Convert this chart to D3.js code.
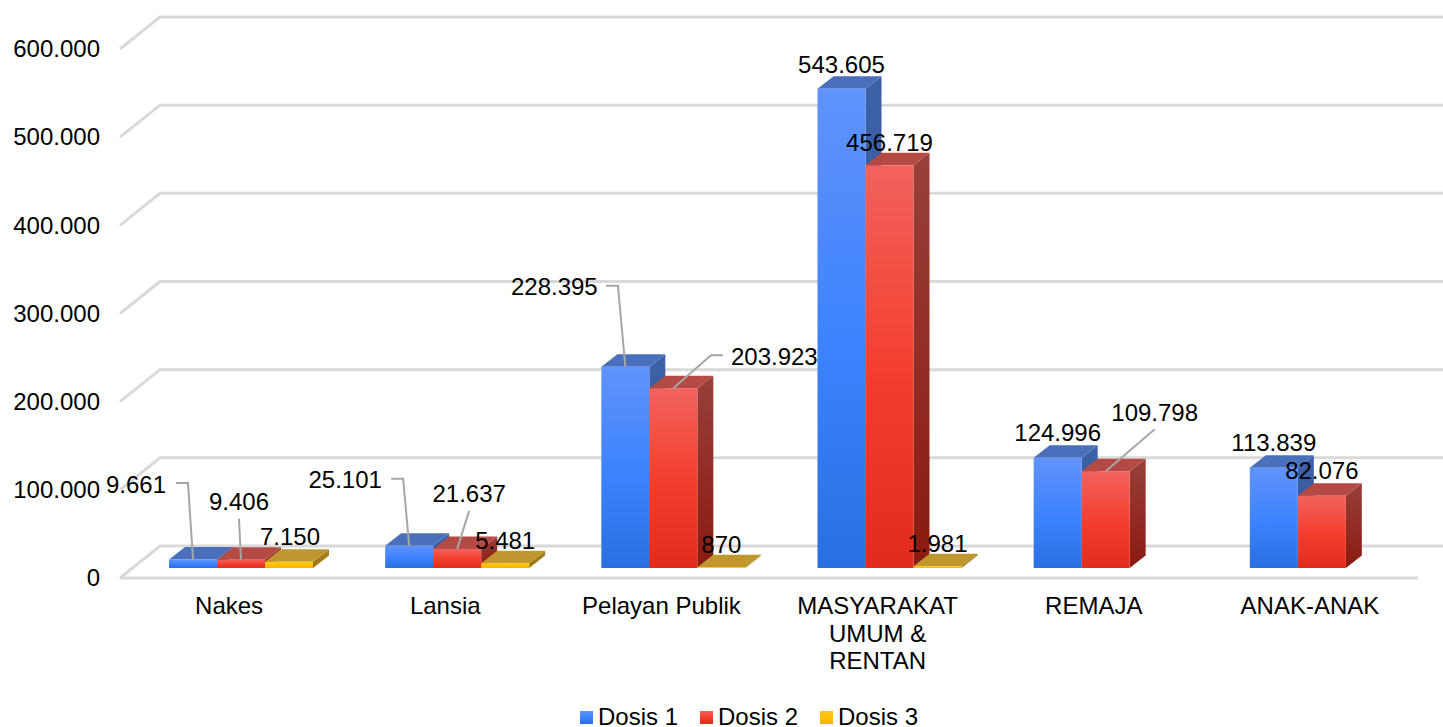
<!DOCTYPE html>
<html>
<head>
<meta charset="utf-8">
<script src="https://cdn.jsdelivr.net/npm/d3@7"></script>
<style>
  html, body { margin: 0; padding: 0; background: #fff; overflow: hidden; }
  svg { display: block; }
  text { font-family: "Liberation Sans", Arial, sans-serif; fill: #000; }
</style>
</head>
<body>
<div id="chart"></div>
<script>
const categories = ["Nakes", "Lansia", "Pelayan Publik", "MASYARAKAT UMUM & RENTAN", "REMAJA", "ANAK-ANAK"];
const seriesNames = ["Dosis 1", "Dosis 2", "Dosis 3"];
const dosis1 = [9661, 25101, 228395, 543605, 124996, 113839];
const dosis2 = [9406, 21637, 203923, 456719, 109798, 82076];
const dosis3 = [7150, 5481, 870, 1981, null, null];
const yTicks = [0, 100000, 200000, 300000, 400000, 500000, 600000];

// category labels broken by hand like the original
const categoryLines = {"MASYARAKAT UMUM & RENTAN": ["MASYARAKAT", "UMUM &", "RENTAN"]};

// data labels were dragged around by hand in the original: [dx, dy] from bar top
const labelOffsets = [
  [[-57, -75], [-64, -66], [-71, -80], [0, -24], [0, -25], [0, -25]],
  [[-2, -58], [12, -55], [101, -32], [0, -23], [49, -59], [0, -25]],
  [[1, -25], [0, -23], [0, -23], [0, -23], null, null]
];
// leader lines, relative to bar top: [series, category, points]
const leaders = [
  [0, 0, [[-17, -76.5], [-5, -76.5], [0, 0]]],
  [1, 0, [[-2, -41], [0, 0]]],
  [0, 1, [[-18, -67], [-6, -67], [0, 0]]],
  [1, 1, [[12, -38], [0, 0]]],
  [0, 2, [[-19.4, -81], [-7.4, -81], [0, 0]]],
  [1, 2, [[49.6, -33], [37.6, -33], [0, 0]]],
  [1, 4, [[49, -42], [0, 0]]]
];

const width = 1443, height = 727;
const values = [dosis1, dosis2, dosis3];

// 3d look: wall sits behind the front plane, bars sit in the middle of the floor
const wallX = 40, wallY = 32;
const barX = 12, barY = 10;
const depthX = 16, depthY = 12.5;

const colors = [
  {front: ["#6093fb", "#3b82fd", "#2a6fe0"], top: "#4a70bc", side: ["#3d62a8", "#274f94"]},
  {front: ["#f2625c", "#f33c2b", "#e22b1a"], top: "#b34a44", side: ["#98403a", "#8a1a10"]},
  {front: ["#ffc61a", "#ffc000", "#f5b400"], top: "#c0962e", side: ["#a8821e", "#9a7510"]}
];

let svg = d3.select("#chart").append("svg")
  .attr("width", width)
  .attr("height", height);

let defs = svg.append("defs");
colors.forEach((c, i) => {
  let g = defs.append("linearGradient").attr("id", "front" + i)
    .attr("x1", 0).attr("y1", 0).attr("x2", 0).attr("y2", 1);
  g.append("stop").attr("offset", "0%").attr("stop-color", c.front[0]);
  g.append("stop").attr("offset", "55%").attr("stop-color", c.front[1]);
  g.append("stop").attr("offset", "100%").attr("stop-color", c.front[2]);
  let s = defs.append("linearGradient").attr("id", "side" + i)
    .attr("x1", 0).attr("y1", 0).attr("x2", 0).attr("y2", 1);
  s.append("stop").attr("offset", "0%").attr("stop-color", c.side[0]);
  s.append("stop").attr("offset", "100%").attr("stop-color", c.side[1]);
});

let x0 = d3.scaleBand().domain(categories).range([121, 1418]);
let x1 = d3.scaleBand().domain(seriesNames).range([36, 180]);
let y = d3.scaleLinear().domain([0, 600000]).range([578, 49]);

let fmt = d3.formatLocale({decimal: ",", thousands: ".", grouping: [3], currency: ["", ""]}).format(",d");

// walls and floor
let grid = svg.append("g")
  .attr("fill", "none")
  .attr("stroke", "#d9d9d9")
  .attr("stroke-width", 3);

yTicks.forEach(t => {
  grid.append("path")
    .attr("d", d3.line()([
      [x0.range()[0] - 1, y(t)],
      [x0.range()[0] - 1 + wallX, y(t) - wallY],
      [x0.range()[1] + wallX, y(t) - wallY]
    ]));
});
grid.append("line")
  .attr("x1", x0.range()[0] - 1).attr("y1", y(0))
  .attr("x2", x0.range()[1]).attr("y2", y(0));

// bars, left to right so the next bar hides the side of the previous one
categories.forEach((cat, i) => {
  seriesNames.forEach((name, s) => {
    let v = values[s][i];
    if (v === null) return;
    let left = x0(cat) + x1(name) + barX;
    let right = left + x1.bandwidth();
    let base = y(0) - barY;
    let top = y(v) - barY;

    let bar = svg.append("g").attr("class", "bar");
    bar.append("path")
      .attr("fill", "url(#side" + s + ")")
      .attr("d", d3.line()([[right, top], [right + depthX, top - depthY], [right + depthX, base - depthY], [right, base]]) + "Z");
    bar.append("path")
      .attr("fill", colors[s].top)
      .attr("d", d3.line()([[left, top], [left + depthX, top - depthY], [right + depthX, top - depthY], [right, top]]) + "Z");
    bar.append("rect")
      .attr("x", left)
      .attr("y", top)
      .attr("width", x1.bandwidth())
      .attr("height", base - top)
      .attr("fill", "url(#front" + s + ")");
  });
});

function barTop(s, i) {
  return [
    x0(categories[i]) + x1(seriesNames[s]) + barX + x1.bandwidth() / 2,
    y(values[s][i]) - barY
  ];
}

// leader lines
svg.append("g").selectAll("path")
  .data(leaders)
  .enter().append("path")
  .attr("fill", "none")
  .attr("stroke", "#a6a6a6")
  .attr("stroke-width", 2)
  .attr("d", d => {
    let a = barTop(d[0], d[1]);
    return d3.line()(d[2].map(p => [a[0] + p[0], a[1] + p[1]]));
  });

// data labels
let labelData = [];
values.forEach((row, s) => row.forEach((v, i) => {
  if (v !== null) labelData.push({s: s, i: i, v: v});
}));
svg.append("g").selectAll("text")
  .data(labelData)
  .enter().append("text")
  .attr("x", d => barTop(d.s, d.i)[0] + labelOffsets[d.s][d.i][0])
  .attr("y", d => barTop(d.s, d.i)[1] + labelOffsets[d.s][d.i][1])
  .attr("dy", "0.35em")
  .attr("text-anchor", "middle")
  .style("font-size", "24px")
  .text(d => fmt(d.v));

// y axis
let yAxis = svg.append("g")
  .attr("transform", "translate(100,0)")
  .call(d3.axisLeft(y).tickValues(yTicks).tickFormat(fmt).tickSize(0).tickPadding(0));
yAxis.select(".domain").remove();
yAxis.selectAll("text").style("font-size", "24px");
yAxis.attr("font-family", null).attr("font-size", null);

// x axis
let xAxis = svg.append("g")
  .attr("transform", "translate(0,596)")
  .call(d3.axisBottom(x0).tickSize(0).tickPadding(0));
xAxis.select(".domain").remove();
xAxis.attr("font-family", null).attr("font-size", null);
xAxis.selectAll("text")
  .style("font-size", "24px")
  .text(null)
  .attr("y", 0)
  .attr("dy", null)
  .each(function(d) {
    let lines = categoryLines[d] || [d];
    d3.select(this).selectAll("tspan")
      .data(lines)
      .enter().append("tspan")
      .attr("x", 0)
      .attr("y", (l, k) => 18 + k * 27.5)
      .text(l => l);
  });

// legend
let legend = svg.append("g").attr("transform", "translate(580,0)");
seriesNames.forEach((name, s) => {
  let item = legend.append("g").attr("transform", "translate(" + (s * 120) + ",711)");
  item.append("rect")
    .attr("width", 13)
    .attr("height", 13)
    .attr("fill", "url(#front" + s + ")");
  item.append("text")
    .attr("x", 18)
    .attr("y", 14)
    .style("font-size", "24px")
    .text(name);
});
</script>
</body>
</html>
